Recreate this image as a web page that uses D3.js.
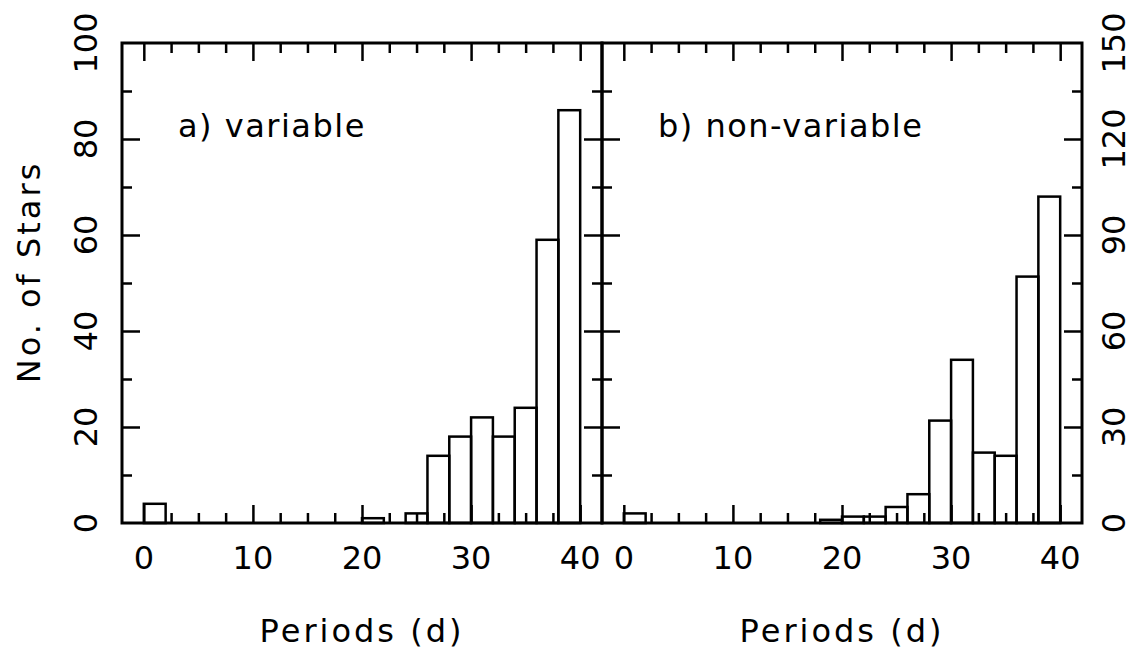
<!DOCTYPE html>
<html>
<head>
<meta charset="utf-8">
<script src="https://cdn.jsdelivr.net/npm/d3@7"></script>
<style>
  html, body { margin: 0; padding: 0; background: #fff; }
  svg { display: block; }
  text { font-family: "DejaVu Sans", sans-serif; fill: #000; }
</style>
</head>
<body>
<svg id="chart" width="1139" height="652"></svg>
<script>
// ---- data ----
const binStarts = [0, 2, 4, 6, 8, 10, 12, 14, 16, 18, 20, 22, 24, 26, 28, 30, 32, 34, 36, 38];
const binWidth = 2;
const variableCounts    = [4, 0, 0, 0, 0, 0, 0, 0, 0, 0, 1, 0, 2, 14, 18, 22, 18, 24, 59, 86];
const nonVariableCounts = [3, 0, 0, 0, 0, 0, 0, 0, 0, 1, 2, 2, 5, 9, 32, 51, 22, 21, 77, 102];

const xMajorTicks = [0, 10, 20, 30, 40];
const xMinorTicks = [2.5, 5, 7.5, 12.5, 15, 17.5, 22.5, 25, 27.5, 32.5, 35, 37.5];
const yLeftMajor  = [0, 20, 40, 60, 80, 100];
const yLeftMinor  = [10, 30, 50, 70, 90];
const yRightMajor = [0, 30, 60, 90, 120, 150];
const yRightMinor = [15, 45, 75, 105, 135];

const panelLabels = ["a) variable", "b) non-variable"];
const xTitle = "Periods (d)";
const yTitle = "No. of Stars";

// ---- layout ----
const svg = d3.select("#chart");
const plotTop = 43, plotBottom = 523;
const panels = [
  { x0: 122, x1: 602, counts: variableCounts, yMax: 100, label: panelLabels[0] },
  { x0: 602, x1: 1082, counts: nonVariableCounts, yMax: 150, label: panelLabels[1] }
];
const majorLen = 18, minorLen = 10;
const fs = 32;

panels.forEach((p, i) => {
  const x = d3.scaleLinear().domain([-2, 42]).range([p.x0, p.x1]);
  const y = d3.scaleLinear().domain([0, p.yMax]).range([plotBottom, plotTop]);
  const g = svg.append("g");

  // bars
  const bins = binStarts.map((s, k) => ({ s, v: p.counts[k] })).filter(d => d.v > 0);
  g.selectAll("rect.bar").data(bins).join("rect")
    .attr("class", "bar")
    .attr("x", d => x(d.s))
    .attr("width", d => x(d.s + binWidth) - x(d.s))
    .attr("y", d => y(d.v))
    .attr("height", d => y(0) - y(d.v))
    .attr("fill", "none")
    .attr("stroke", "#000")
    .attr("stroke-width", 2.5);

  const yMajor = i === 0 ? yLeftMajor : yRightMajor;
  const yMinor = i === 0 ? yLeftMinor : yRightMinor;
  const yInner = yMajor.filter(v => v > 0 && v < p.yMax);

  function addAxis(axis, transform) {
    const a = g.append("g").attr("transform", transform).call(axis);
    a.select(".domain").remove();
    a.selectAll("line").attr("stroke", "#000").attr("stroke-width", 2.5);
    a.selectAll("text").remove();
  }
  addAxis(d3.axisBottom(x).tickValues(xMajorTicks).tickSize(-majorLen).tickFormat(""), `translate(0,${plotBottom})`);
  addAxis(d3.axisBottom(x).tickValues(xMinorTicks).tickSize(-minorLen).tickFormat(""), `translate(0,${plotBottom})`);
  addAxis(d3.axisTop(x).tickValues(xMajorTicks).tickSize(-majorLen).tickFormat(""), `translate(0,${plotTop})`);
  addAxis(d3.axisTop(x).tickValues(xMinorTicks).tickSize(-minorLen).tickFormat(""), `translate(0,${plotTop})`);
  addAxis(d3.axisLeft(y).tickValues(yInner).tickSize(-majorLen).tickFormat(""), `translate(${p.x0},0)`);
  addAxis(d3.axisLeft(y).tickValues(yMinor).tickSize(-minorLen).tickFormat(""), `translate(${p.x0},0)`);
  addAxis(d3.axisRight(y).tickValues(yInner).tickSize(-majorLen).tickFormat(""), `translate(${p.x1},0)`);
  addAxis(d3.axisRight(y).tickValues(yMinor).tickSize(-minorLen).tickFormat(""), `translate(${p.x1},0)`);

  // frame
  g.append("rect")
    .attr("x", p.x0).attr("y", plotTop)
    .attr("width", p.x1 - p.x0).attr("height", plotBottom - plotTop)
    .attr("fill", "none").attr("stroke", "#000").attr("stroke-width", 3);

  // x tick labels
  g.selectAll("text.xt").data(xMajorTicks).join("text")
    .attr("class", "xt")
    .attr("x", d => x(d)).attr("y", 569)
    .attr("text-anchor", "middle")
    .attr("font-size", fs)
    .text(d => d);

  // y tick labels (rotated)
  const lx = i === 0 ? 97 : 1125;
  g.selectAll("text.yt").data(yMajor).join("text")
    .attr("class", "yt")
    .attr("transform", d => `translate(${lx},${y(d)}) rotate(-90)`)
    .attr("text-anchor", "middle")
    .attr("font-size", fs)
    .text(d => d);

  // x title
  g.append("text")
    .attr("x", x(20)).attr("y", 642)
    .attr("text-anchor", "middle")
    .attr("font-size", fs)
    .attr("letter-spacing", 3)
    .text(xTitle);

  // panel label
  g.append("text")
    .attr("x", p.x0 + 56).attr("y", 137)
    .attr("font-size", fs)
    .attr("letter-spacing", 1.5)
    .text(p.label);
});

// y title
svg.append("text")
  .attr("transform", `translate(40,272) rotate(-90)`)
  .attr("text-anchor", "middle")
  .attr("font-size", fs)
  .attr("letter-spacing", 3)
  .text(yTitle);
</script>
</body>
</html>
